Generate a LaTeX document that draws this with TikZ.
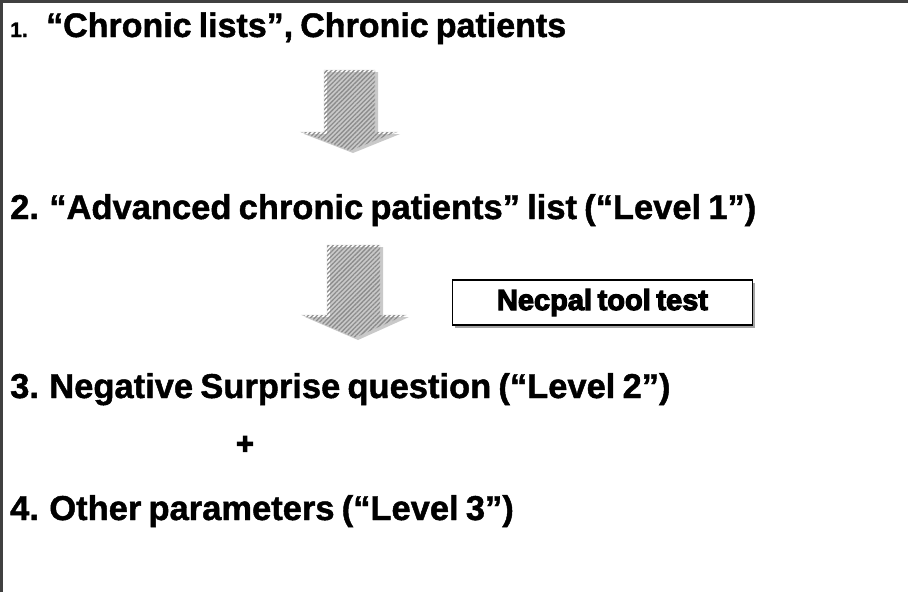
\documentclass[tikz,border=0pt]{standalone}
\usepackage{fontspec}
\setmainfont{Liberation Sans}[WordSpace=0.75, BoldFeatures={FakeBold=1.3}]
\newfontfamily\heavyfont{Liberation Sans Bold}[FakeBold=4, WordSpace=0.7]
\usetikzlibrary{patterns.meta,shadows}

\tikzset{
  heading/.style={anchor=base west, inner sep=0pt, font=\bfseries\fontsize{34.5}{38}\selectfont},
  downarrow/.style={pattern={Lines[angle=45, distance=3.2pt, line width=1.3pt]},
    pattern color=black!45, draw=black!20, line width=0.4pt,
    drop shadow={shadow xshift=3pt, shadow yshift=-2pt, fill=black!35, opacity=0.6}},
  toolbox/.style={draw=black, line width=1.8pt, fill=white, minimum width=300pt,
    minimum height=45pt, inner sep=0pt,
    drop shadow={shadow xshift=2.5pt, shadow yshift=-2.5pt, fill=black!45, opacity=0.8},
    font=\heavyfont\fontsize{29}{32}\selectfont}
}

\begin{document}
\begin{tikzpicture}[x=1pt,y=-1pt]
  \useasboundingbox (0,0) rectangle (908,592);
  \fill[white] (0,0) rectangle (908,592);
  % frame edges along the top and left
  \draw[line width=3pt, black!75] (1.5,592) -- (1.5,1.5) -- (908,1.5);

  % step headings
  \node[heading, font=\bfseries\fontsize{21}{24}\selectfont] (n1) at (10,37) {1.};
  \node[heading, font=\bfseries\fontsize{34}{38}\selectfont] (s1) at (46,37) {“Chronic lists”, Chronic patients};
  \node[heading] (s2) at (10,219) {2. “Advanced chronic patients” list (“Level 1”)};
  \node[heading] (s3) at (10,398) {3. Negative Surprise question (“Level 2”)};
  \node[heading, anchor=center, font=\heavyfont\fontsize{30}{30}\selectfont] (plus) at (245,445) {+};
  \node[heading] (s4) at (10,520) {4. Other parameters (“Level 3”)};

  % block arrows between the steps
  \path[downarrow] (324,70) -- (375,70) -- (375,132) -- (397,132) -- (350,151)
    -- (301,132) -- (324,132) -- cycle;
  \path[downarrow] (327,245) -- (380,245) -- (380,315) -- (406,315) -- (355,338)
    -- (302,315) -- (327,315) -- cycle;

  % tool box beside the second arrow
  \node[toolbox] (tool) at (602.5,302.5) {Necpal tool test};
\end{tikzpicture}
\end{document}
